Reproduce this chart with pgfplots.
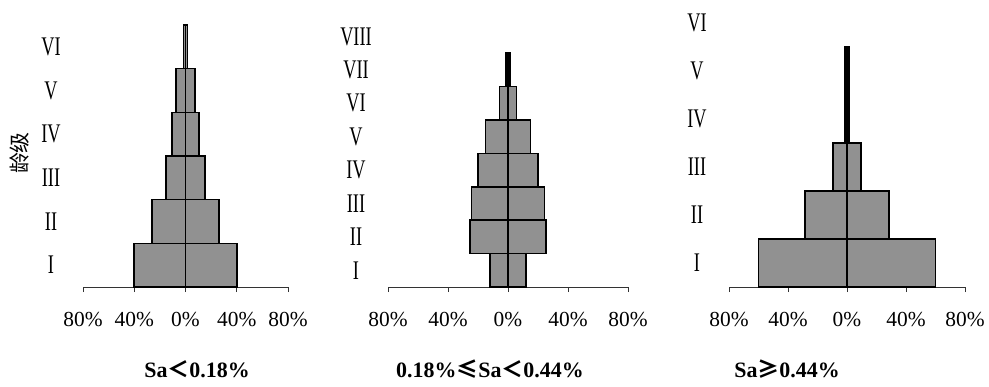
\documentclass[border=0pt]{standalone}
\usepackage{pgfplots}
\pgfplotsset{compat=1.18}
\usepackage{graphicx}
\usepackage{fontspec}
\setmainfont{Liberation Serif}
\newfontfamily\cjk{Noto Sans CJK SC}
\definecolor{barfill}{RGB}{145,145,145}
\newcommand\rn[1]{\scalebox{0.68}[1]{#1}}
\pgfplotsset{pyr/.style={
  xbar, bar width=1,
  xmin=-80, xmax=80, enlargelimits=false,
  axis x line*=bottom, axis y line*=left,
  axis line style={-, line width=0.8bp, color=black!80},
  y axis line style={draw=none},
  ytick style={draw=none},
  xtick={-80,-40,0,40,80},
  xticklabels={80\%,40\%,0\%,40\%,80\%},
  tick align=outside,
  major tick length=5bp,
  xtick style={line width=0.8bp, color=black!80},
  xticklabel style={font=\fontsize{21.5}{23}\selectfont, anchor=center, yshift=-28bp},
  yticklabel style={font=\fontsize{27}{29}\selectfont, anchor=center, xshift=-27bp},
  anchor=south west,
  clip=false,
}, pbar/.style={xbar, bar shift=0pt, fill=barfill, draw=black, line width=1.6bp}}
\begin{document}
\begin{tikzpicture}
\useasboundingbox (0bp,0bp) rectangle (989bp,-387bp);
% Panel 1
\begin{axis}[pyr, at={(83bp,-287bp)}, x=1.2813bp, y=43.67bp, ymin=0.5, ymax=6.5,
  ytick={1,2,3,4,5,6}, yticklabels={\rn{I},\rn{II},\rn{III},\rn{IV},\rn{V},\rn{VI}}]
\addplot[pbar] coordinates {(-40,1) (-26,2) (-15,3) (-10.5,4) (-7.5,5) (-1.5,6)};
\addplot[pbar] coordinates {(40,1) (26,2) (15,3) (10.5,4) (7.5,5) (1.5,6)};
\end{axis}
% Panel 2
\begin{axis}[pyr, at={(388bp,-287bp)}, x=1.5bp, y=33.4bp, ymin=0.5, ymax=8.5,
  ytick={1,2,3,4,5,6,7,8}, yticklabels={\rn{I},\rn{II},\rn{III},\rn{IV},\rn{V},\rn{VI},\rn{VII},\rn{VIII}}]
\addplot[pbar] coordinates {(-12,1) (-25.5,2) (-24.3,3) (-20,4) (-15,5) (-5.6,6) (-1.5,7)};
\addplot[pbar] coordinates {(12,1) (25.5,2) (24.3,3) (20,4) (15,5) (5.6,6) (1.5,7)};
\end{axis}
% Panel 3
\begin{axis}[pyr, at={(729bp,-287bp)}, x=1.475bp, y=48bp, ymin=0.5, ymax=6.5,
  ytick={1,2,3,4,5,6}, yticklabels={\rn{I},\rn{II},\rn{III},\rn{IV},\rn{V},\rn{VI}}]
\addplot[pbar] coordinates {(-60,1) (-28.5,2) (-9.5,3) (-1.2,4) (-1.2,5)};
\addplot[pbar] coordinates {(60,1) (28.5,2) (9.5,3) (1.2,4) (1.2,5)};
\end{axis}
\node[rotate=90, font=\cjk\fontsize{21}{23}\selectfont] at (20bp,-153bp) {龄级};
\node[font=\bfseries\fontsize{22}{24}\selectfont] at (197bp,-369bp) {Sa{\cjk ＜}0.18\%};
\node[font=\bfseries\fontsize{22}{24}\selectfont] at (490bp,-369bp) {0.18\%{\cjk ≤}Sa{\cjk ＜}0.44\%};
\node[font=\bfseries\fontsize{22}{24}\selectfont] at (787bp,-369bp) {Sa{\cjk ≥}0.44\%};
\end{tikzpicture}
\end{document}
